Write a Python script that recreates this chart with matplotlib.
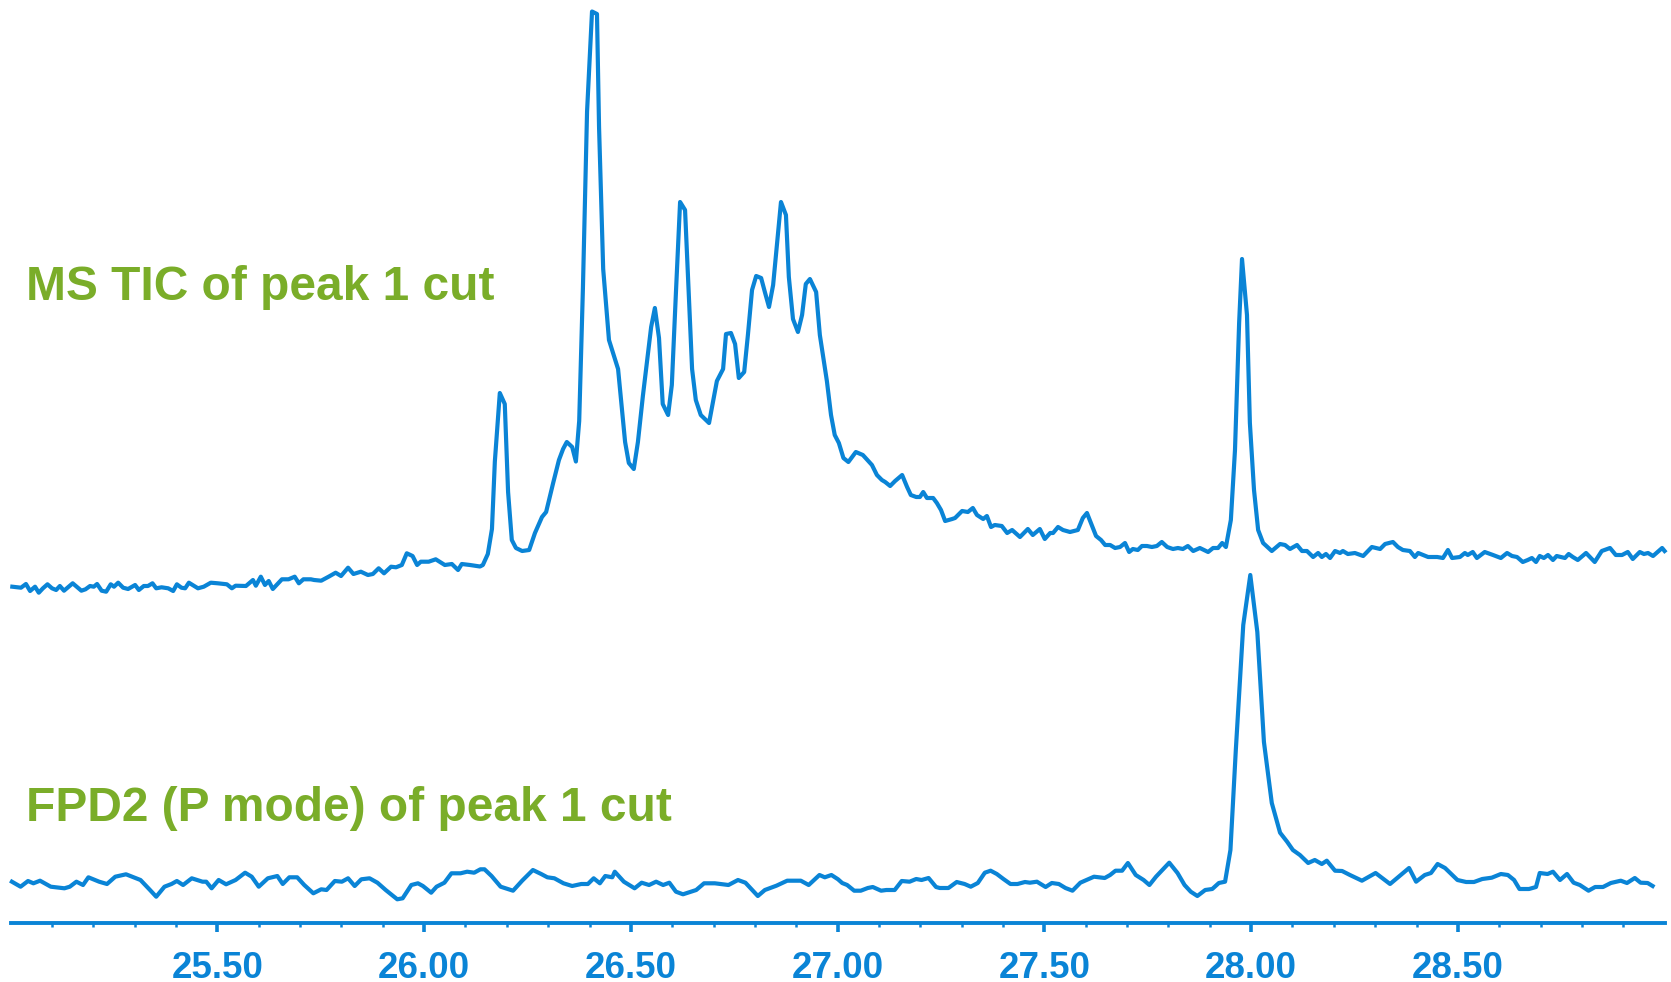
import matplotlib
matplotlib.use("Agg")
import matplotlib.pyplot as plt
import numpy as np

plt.rcParams['font.family'] = ['Liberation Sans', 'DejaVu Sans']

BLUE = '#0a84d6'
GREEN = '#7aad29'

# ---------------- data (retention time in min, signal in arbitrary units, stacked) -------------
tic_time = [25.004, 25.025, 25.037, 25.047, 25.059, 25.068, 25.078, 25.089, 25.100, 25.110,
            25.119, 25.129, 25.150, 25.171, 25.181, 25.192, 25.201, 25.209, 25.220, 25.231,
            25.242, 25.250, 25.260, 25.272, 25.284, 25.301, 25.310, 25.322, 25.332, 25.343,
            25.352, 25.365, 25.381, 25.393, 25.402, 25.413, 25.422, 25.431, 25.453, 25.467,
            25.484, 25.501, 25.523, 25.535, 25.544, 25.569, 25.586, 25.593, 25.605, 25.615,
            25.624, 25.634, 25.656, 25.672, 25.687, 25.697, 25.708, 25.726, 25.734, 25.751,
            25.769, 25.786, 25.799, 25.816, 25.829, 25.847, 25.864, 25.876, 25.890, 25.903,
            25.920, 25.932, 25.946, 25.958, 25.972, 25.983, 25.992, 26.011, 26.028, 26.050,
            26.067, 26.082, 26.091, 26.111, 26.135, 26.142, 26.154, 26.164, 26.171, 26.183,
            26.195, 26.203, 26.212, 26.222, 26.237, 26.254, 26.268, 26.285, 26.295, 26.312,
            26.326, 26.336, 26.345, 26.358, 26.367, 26.375, 26.384, 26.394, 26.406, 26.418,
            26.423, 26.433, 26.447, 26.469, 26.486, 26.495, 26.507, 26.517, 26.529, 26.549,
            26.558, 26.568, 26.577, 26.590, 26.599, 26.609, 26.619, 26.631, 26.648, 26.657,
            26.669, 26.689, 26.708, 26.723, 26.730, 26.742, 26.752, 26.761, 26.774, 26.783,
            26.793, 26.803, 26.815, 26.824, 26.834, 26.844, 26.853, 26.863, 26.875, 26.882,
            26.892, 26.904, 26.914, 26.923, 26.933, 26.948, 26.957, 26.974, 26.984, 26.993,
            27.003, 27.014, 27.026, 27.044, 27.061, 27.083, 27.095, 27.107, 27.115, 27.127,
            27.139, 27.156, 27.168, 27.177, 27.190, 27.199, 27.207, 27.216, 27.231, 27.240,
            27.250, 27.260, 27.277, 27.284, 27.301, 27.315, 27.327, 27.337, 27.352, 27.361,
            27.371, 27.380, 27.397, 27.410, 27.422, 27.441, 27.460, 27.472, 27.489, 27.501,
            27.514, 27.521, 27.533, 27.545, 27.562, 27.581, 27.593, 27.603, 27.625, 27.637,
            27.647, 27.659, 27.671, 27.683, 27.695, 27.705, 27.714, 27.726, 27.736, 27.748,
            27.760, 27.772, 27.784, 27.797, 27.811, 27.823, 27.835, 27.847, 27.860, 27.876,
            27.896, 27.908, 27.920, 27.930, 27.939, 27.951, 27.961, 27.971, 27.978, 27.990,
            27.997, 28.007, 28.017, 28.029, 28.050, 28.070, 28.082, 28.094, 28.111, 28.123,
            28.135, 28.150, 28.162, 28.171, 28.181, 28.191, 28.203, 28.215, 28.222, 28.234,
            28.251, 28.271, 28.292, 28.312, 28.324, 28.343, 28.355, 28.367, 28.384, 28.396,
            28.404, 28.428, 28.450, 28.464, 28.476, 28.486, 28.505, 28.517, 28.524, 28.536,
            28.546, 28.565, 28.585, 28.604, 28.619, 28.631, 28.643, 28.657, 28.669, 28.679,
            28.689, 28.698, 28.708, 28.718, 28.730, 28.739, 28.759, 28.768, 28.778, 28.790,
            28.810, 28.831, 28.848, 28.868, 28.882, 28.897, 28.911, 28.923, 28.940, 28.950,
            28.960, 28.972, 28.994, 29.000]
tic_signal = [336.3, 335.3, 339, 332, 336.3, 330.3, 334.7, 338.7, 334.7, 333,
              337, 332.3, 339.7, 332.3, 333.7, 337, 336.3, 339, 332.3, 331.3,
              338.7, 336.3, 340.3, 335.3, 334, 338, 333, 337, 337, 339.7,
              334.7, 335.7, 334.7, 332, 338.7, 335.3, 334.7, 340.3, 334.7, 336.3,
              340.3, 339.7, 338.7, 334.7, 337.3, 337, 343, 337.3, 346.3, 338,
              342, 334, 343.7, 343.7, 346.3, 339.7, 343.7, 343.7, 343, 342.3,
              346.3, 350.3, 347, 355.3, 349, 351.3, 348, 349, 354.7, 349.7,
              356.3, 355.7, 358, 369.7, 367, 358, 361.3, 361.3, 363.7, 358,
              359, 353, 359, 358, 356.5, 358, 369, 394, 461.5, 530,
              519, 431, 383, 375, 372, 373, 390, 406, 411, 440,
              463, 474, 481, 476, 461.5, 502, 635, 811.5, 911.5, 909,
              796, 654, 583, 554, 481, 460, 454, 481, 527, 596,
              615, 585, 519, 508, 538, 631, 721, 713, 554, 523,
              508, 500, 542, 554, 589, 590, 579, 545, 551, 588,
              633, 647, 645, 631, 616, 638, 677, 721, 708, 646,
              604, 591, 608, 639, 644, 631, 588, 542, 508, 488,
              480, 465, 461, 471, 468, 458, 448, 443, 441, 437,
              442, 448, 436, 428, 426, 426, 431, 425, 425, 420,
              413, 402, 404, 405, 412, 411, 415, 408, 404, 407,
              396, 398, 397, 390, 393, 386, 394, 388, 394, 384,
              390, 390, 396, 393, 391, 393, 405, 410, 387, 383,
              378, 378, 375, 376, 380, 371, 374, 373, 377, 377,
              376, 377, 381, 376, 374, 375, 374, 377, 372, 375,
              371, 375, 375, 380, 376, 403, 473, 600, 664, 608,
              500, 433, 393, 380, 372, 379, 378, 374, 378, 372,
              372, 366, 370, 366, 369, 365, 372, 370, 372, 369,
              370, 367, 376, 374, 379, 381, 376, 373, 372, 366,
              370, 366, 366, 365, 373, 365, 366, 370, 368, 371,
              365, 371, 368, 365, 370, 367, 366, 361, 363, 365,
              361, 367, 365, 368, 363, 367, 365, 369, 366, 363,
              370, 361, 372, 375, 368, 368, 371, 364, 371, 369,
              370, 367, 375, 372]

fpd_time = [25.003, 25.024, 25.042, 25.055, 25.071, 25.097, 25.130, 25.143, 25.159, 25.175,
            25.188, 25.214, 25.233, 25.253, 25.279, 25.314, 25.337, 25.352, 25.372, 25.389,
            25.402, 25.417, 25.438, 25.464, 25.473, 25.486, 25.503, 25.521, 25.544, 25.567,
            25.583, 25.600, 25.622, 25.645, 25.658, 25.674, 25.693, 25.710, 25.732, 25.751,
            25.764, 25.784, 25.801, 25.816, 25.832, 25.848, 25.868, 25.887, 25.907, 25.935,
            25.948, 25.969, 25.985, 25.997, 26.017, 26.030, 26.049, 26.066, 26.088, 26.104,
            26.121, 26.136, 26.146, 26.163, 26.185, 26.215, 26.237, 26.263, 26.283, 26.298,
            26.315, 26.337, 26.358, 26.380, 26.396, 26.410, 26.425, 26.438, 26.455, 26.461,
            26.483, 26.509, 26.526, 26.544, 26.561, 26.578, 26.593, 26.609, 26.626, 26.658,
            26.677, 26.703, 26.736, 26.759, 26.777, 26.807, 26.824, 26.852, 26.878, 26.911,
            26.930, 26.956, 26.969, 26.985, 27.001, 27.011, 27.023, 27.040, 27.056, 27.073,
            27.085, 27.105, 27.118, 27.138, 27.155, 27.174, 27.190, 27.203, 27.220, 27.238,
            27.247, 27.268, 27.288, 27.307, 27.322, 27.339, 27.356, 27.370, 27.385, 27.401,
            27.418, 27.435, 27.453, 27.465, 27.482, 27.503, 27.518, 27.535, 27.551, 27.568,
            27.587, 27.620, 27.646, 27.659, 27.672, 27.688, 27.702, 27.721, 27.740, 27.754,
            27.770, 27.802, 27.822, 27.839, 27.854, 27.870, 27.889, 27.906, 27.922, 27.937,
            27.950, 27.963, 27.981, 27.998, 28.015, 28.031, 28.050, 28.070, 28.087, 28.101,
            28.118, 28.138, 28.154, 28.171, 28.183, 28.203, 28.220, 28.239, 28.268, 28.301,
            28.336, 28.362, 28.382, 28.399, 28.420, 28.435, 28.451, 28.469, 28.499, 28.520,
            28.539, 28.559, 28.582, 28.604, 28.621, 28.636, 28.649, 28.672, 28.689, 28.698,
            28.717, 28.730, 28.747, 28.764, 28.780, 28.795, 28.816, 28.832, 28.851, 28.870,
            28.894, 28.909, 28.928, 28.942, 28.959, 28.971]
fpd_signal = [41.3, 36.3, 42, 39.7, 42.3, 36.3, 34.7, 36.3, 41.3, 38,
              45.7, 41.3, 39, 46.3, 48.7, 43, 33, 26.3, 36.3, 39,
              42, 38, 44.7, 41.3, 41.3, 34.7, 43, 38.7, 43, 50.3,
              46.3, 36.3, 44.7, 47, 39, 45.7, 45.7, 38, 29.7, 33.7,
              33, 42, 41.3, 44.7, 37, 43.7, 44.7, 40.3, 33, 23.7,
              24.7, 38, 39.7, 37, 30.3, 36.3, 40.3, 49.7, 49.7, 51.3,
              50.3, 53.7, 53.7, 47, 36.3, 32.3, 42.3, 53, 49, 45.7,
              44.7, 39.7, 37, 39, 39, 44.7, 39.7, 47, 45.7, 51.3,
              41.3, 34.7, 40.3, 38, 41.3, 38, 40.3, 31.3, 28.7, 33,
              39.7, 39.7, 38, 43, 40.3, 27, 33, 37.3, 42.3, 42.3,
              38, 48, 45.7, 48, 43.7, 40, 38, 32.3, 32.3, 35,
              36, 32.3, 33, 33, 42, 41.3, 44, 43, 45, 36,
              35, 35, 41, 39, 36.3, 40, 50.3, 52.3, 49, 44,
              39, 39, 41, 40.3, 41.3, 36, 40, 39, 35, 32.3,
              40.3, 46.3, 45, 48, 52.3, 52.3, 60, 48, 43, 38,
              46.3, 60.3, 50, 38, 31.3, 27, 33, 34, 40, 41.3,
              73, 173, 298, 348, 291, 181, 120, 90.3, 81.3, 73,
              68, 60, 63, 59, 62.3, 52.3, 52, 48, 42.3, 50,
              39, 48, 55, 41.3, 48, 50, 59, 55, 43, 41,
              41, 44, 45.3, 49, 48, 43, 34, 34, 36, 50,
              49, 51.3, 43, 49, 40.3, 38, 32.3, 36, 36, 40,
              42.3, 40, 45, 40.3, 40, 37]

x_major = [25.5, 26.0, 26.5, 27.0, 27.5, 28.0, 28.5]
x_major_labels = ["25.50", "26.00", "26.50", "27.00", "27.50", "28.00", "28.50"]
trace_labels = ["MS TIC of peak 1 cut", "FPD2 (P mode) of peak 1 cut"]

# ---------------- figure -------------
W, H = 1671, 982
fig = plt.figure(figsize=(W / 100, H / 100), dpi=100)
ax = fig.add_axes([10.66 / W, 59 / H, 1653.94 / W, 923 / H])

ax.plot(tic_time, tic_signal, color=BLUE, lw=3.0, solid_joinstyle='round', clip_on=False)
ax.plot(fpd_time, fpd_signal, color=BLUE, lw=3.0, solid_joinstyle='round', clip_on=False)

ax.set_xlim(25.0, 29.0)
ax.set_ylim(0, 923)

for s in ['top', 'left', 'right']:
    ax.spines[s].set_visible(False)
ax.spines['bottom'].set_color(BLUE)
ax.spines['bottom'].set_linewidth(2.8)
ax.yaxis.set_visible(False)

minor = [m for m in np.round(np.arange(25.1, 29.0, 0.1), 1) if m not in x_major]
ax.set_xticks(x_major)
ax.set_xticklabels(x_major_labels)
ax.set_xticks(minor, minor=True)
ax.tick_params(axis='x', which='major', length=6.5, width=2.6, color=BLUE, pad=14,
               labelsize=26.5, labelcolor=BLUE)
ax.tick_params(axis='x', which='minor', length=3, width=1.8, color=BLUE)
for lab in ax.get_xticklabels():
    lab.set_fontweight('bold')

fig.text(26 / W, 1 - 300.5 / H, trace_labels[0], fontsize=34.5, fontweight='bold',
         color=GREEN, ha='left', va='baseline')
fig.text(26 / W, 1 - 820.6 / H, trace_labels[1], fontsize=34.5, fontweight='bold',
         color=GREEN, ha='left', va='baseline')

fig.savefig('out.png', dpi=100)
